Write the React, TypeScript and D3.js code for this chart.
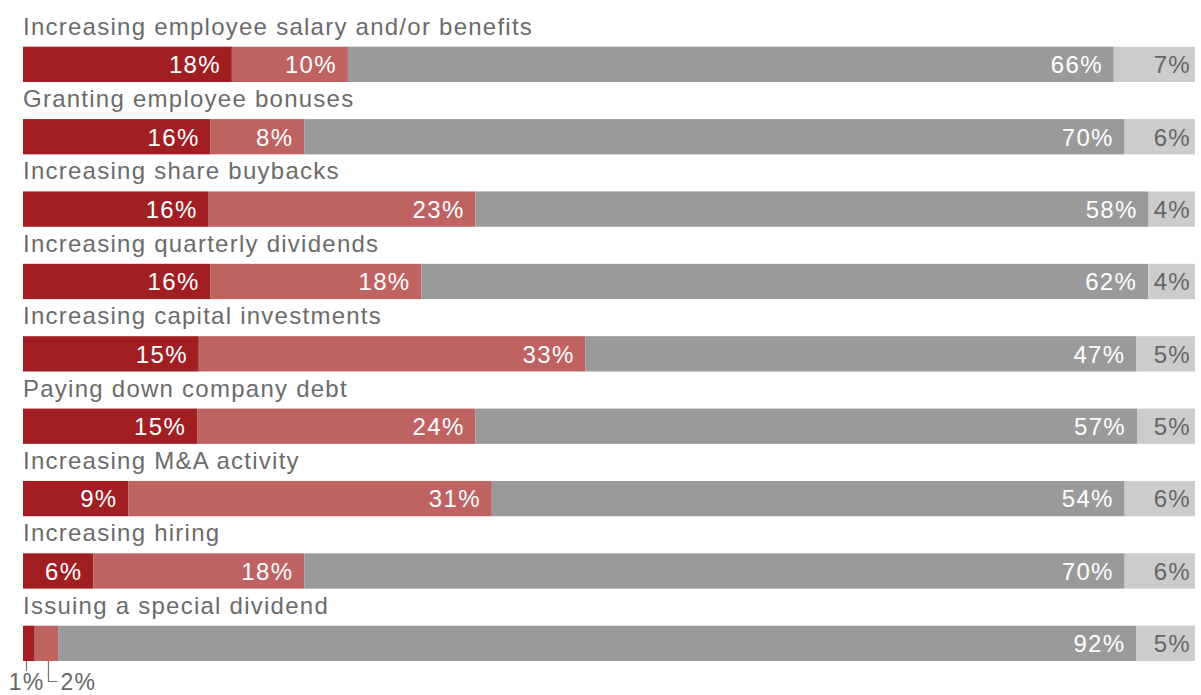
import React from "react";
import * as d3 from "d3";

const categories = [
  "Increasing employee salary and/or benefits",
  "Granting employee bonuses",
  "Increasing share buybacks",
  "Increasing quarterly dividends",
  "Increasing capital investments",
  "Paying down company debt",
  "Increasing M&A activity",
  "Increasing hiring",
  "Issuing a special dividend",
];
const veryLikely = [18, 16, 16, 16, 15, 15, 9, 6, 1];
const somewhatLikely = [10, 8, 23, 18, 33, 24, 31, 18, 2];
const notLikely = [66, 70, 58, 62, 47, 57, 54, 70, 92];
const dontKnow = [7, 6, 4, 4, 5, 5, 6, 6, 5];

const series = [veryLikely, somewhatLikely, notLikely, dontKnow];
const colors = ["#a11f22", "#bf6262", "#9a9a9a", "#cccccc"];
const textColors = ["#ffffff", "#ffffff", "#ffffff", "#666666"];

const W = 1201;
const H = 695;
const LEFT = 23;
const RIGHT = 1195;
const STEP = 72.375;
const BAR_H = 35.3;
const FONT = "'Liberation Sans', Arial, Helvetica, sans-serif";

export default function App() {
  const y = d3
    .scaleBand<string>()
    .domain(categories)
    .range([11, 11 + STEP * categories.length])
    .paddingInner(0)
    .paddingOuter(0);

  return (
    <svg
      width={W}
      height={H}
      style={{ position: "absolute", left: 0, top: 0, display: "block" }}
      fontFamily={FONT}
    >
      <rect x={0} y={0} width={W} height={H} fill="#ffffff" />
      {categories.map((cat, i) => {
        const vals = series.map((s) => s[i]);
        const total = d3.sum(vals);
        const x = d3.scaleLinear().domain([0, total]).range([LEFT, RIGHT]);
        const cum = d3.cumsum(vals);
        const band = y(cat)!;
        const barTop = band + 35.7;
        const barMid = barTop + BAR_H / 2;
        return (
          <g key={cat}>
            <text x={LEFT} y={barTop - 12} fontSize={24} letterSpacing={1.25} fill="#6b6b6b">
              {cat}
            </text>
            {vals.map((v, j) => {
              const x0 = x(cum[j] - v);
              const x1 = x(cum[j]);
              return (
                <rect
                  key={j}
                  x={x0}
                  y={barTop}
                  width={x1 - x0}
                  height={BAR_H}
                  fill={colors[j]}
                />
              );
            })}
            {vals.map((v, j) => {
              const x1 = x(cum[j]);
              if (v < 3) return null;
              const last = j === vals.length - 1;
              return (
                <text
                  key={"t" + j}
                  x={last ? x1 - 4 : x1 - 11}
                  y={barMid + 8.8}
                  fontSize={24}
                  letterSpacing={1.3}
                  textAnchor="end"
                  fill={textColors[j]}
                >
                  {v}%
                </text>
              );
            })}
            {vals.map((v, j) => {
              if (v >= 3) return null;
              const x0 = x(cum[j] - v);
              const x1 = x(cum[j]);
              const barBottom = barTop + BAR_H;
              if (j === 0) {
                const lx = x0 + 3.5;
                return (
                  <g key={"a" + j}>
                    <line x1={lx} x2={lx} y1={barBottom} y2={barBottom + 10} stroke="#777" strokeWidth={1.2} />
                    <text x={lx} y={barBottom + 29} fontSize={23} letterSpacing={1.2} textAnchor="middle" fill="#666666">
                      {v}%
                    </text>
                  </g>
                );
              }
              const lx = (x0 + x1) / 2 + 2;
              return (
                <g key={"a" + j}>
                  <path
                    d={`M${lx},${barBottom}V${barBottom + 20.5}H${lx + 9}`}
                    fill="none"
                    stroke="#777"
                    strokeWidth={1.2}
                  />
                  <text x={lx + 12} y={barBottom + 29} fontSize={23} letterSpacing={1.2} textAnchor="start" fill="#666666">
                    {v}%
                  </text>
                </g>
              );
            })}
          </g>
        );
      })}
    </svg>
  );
}
